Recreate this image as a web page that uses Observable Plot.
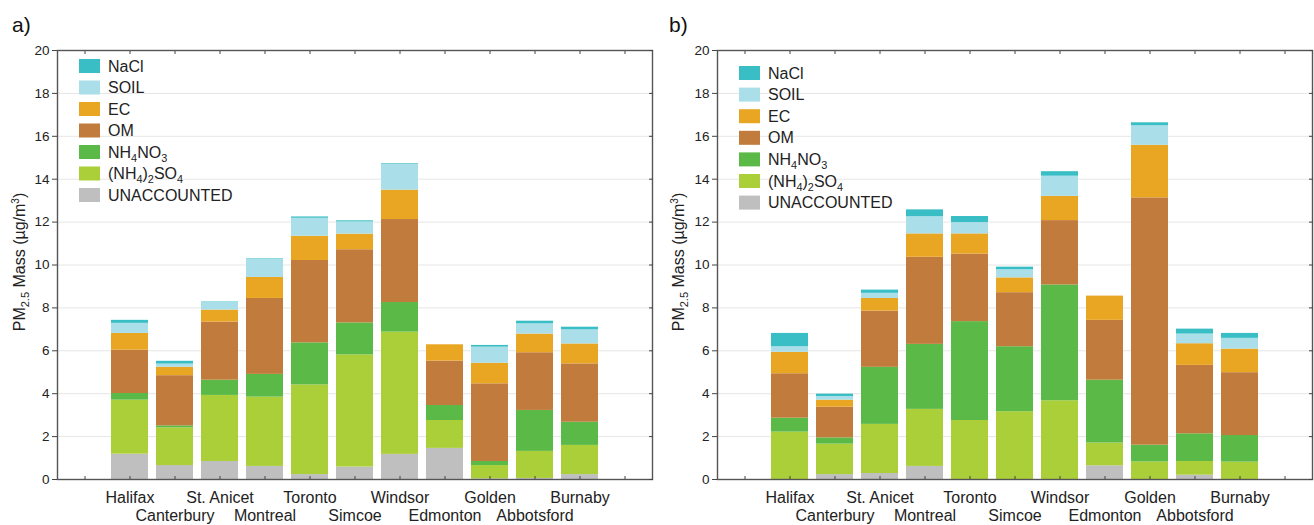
<!DOCTYPE html>
<html><head><meta charset="utf-8">
<script src="https://cdn.jsdelivr.net/npm/d3@7"></script>
<script src="https://cdn.jsdelivr.net/npm/@observablehq/plot@0.6"></script>
<style>
body{margin:0;background:#fff;font-family:"Liberation Sans",Arial,sans-serif;}
#wrap{display:flex;width:1314px;height:525px;}
svg{display:block}
</style></head><body><div id="wrap"></div>
<script>
const sites = ["Halifax","Canterbury","St. Anicet","Montreal","Toronto","Simcoe","Windsor","Edmonton","Golden","Abbotsford","Burnaby"];
const components = ["UNACCOUNTED","(NH4)2SO4","NH4NO3","OM","EC","SOIL","NaCl"];
const colors = ["#bfbfbf","#abcf39","#5bb947","#c17b3c","#e9a623","#aadfe9","#38bec4"];
const yTicks = [0,2,4,6,8,10,12,14,16,18,20];

// Panel a)
const aUnacc = [1.18,0.65,0.84,0.61,0.23,0.58,1.17,1.45,0.03,0.05,0.23];
const aSulf  = [2.52,1.76,3.08,3.23,4.18,5.23,5.70,1.30,0.62,1.26,1.36];
const aNitr  = [0.31,0.09,0.71,1.06,1.96,1.49,1.38,0.70,0.19,1.91,1.08];
const aOM    = [2.02,2.34,2.71,3.54,3.84,3.41,3.87,2.07,3.62,2.69,2.72];
const aEC    = [0.78,0.39,0.56,0.98,1.13,0.73,1.37,0.76,0.96,0.87,0.93];
const aSoil  = [0.47,0.15,0.36,0.86,0.84,0.57,1.20,0.00,0.75,0.48,0.66];
const aNaCl  = [0.14,0.13,0.02,0.02,0.06,0.05,0.03,0.00,0.08,0.12,0.12];

// Panel b)
const bUnacc = [0.00,0.23,0.28,0.61,0.00,0.00,0.00,0.64,0.00,0.20,0.00];
const bSulf  = [2.21,1.42,2.29,2.66,2.75,3.16,3.67,1.06,0.82,0.64,0.81];
const bNitr  = [0.65,0.29,2.66,3.03,4.61,3.03,5.40,2.93,0.78,1.29,1.24];
const bOM    = [2.07,1.43,2.62,4.06,3.15,2.52,3.00,2.79,11.53,3.19,2.93];
const bEC    = [1.00,0.33,0.59,1.09,0.94,0.69,1.13,1.13,2.45,1.01,1.10];
const bSoil  = [0.26,0.17,0.24,0.80,0.53,0.38,0.94,0.00,0.91,0.45,0.50];
const bNaCl  = [0.62,0.11,0.15,0.32,0.28,0.12,0.21,0.00,0.14,0.23,0.23];

const FONT = '"Liberation Sans", Arial, sans-serif';

function addRichText(sel, str, size) {
  // digits become subscripts
  const parts = str.split(/(\d)/).filter(p => p !== "");
  let sub = false;
  parts.forEach(p => {
    const isSub = /^\d$/.test(p);
    const t = sel.append("tspan").text(p);
    if (isSub) { t.attr("font-size", size * 0.68); if (!sub) t.attr("dy", size * 0.28); sub = true; }
    else { if (sub) t.attr("dy", -size * 0.28); sub = false; }
  });
}

function panel(tag, vals, o) {
  const data = [];
  components.forEach((c, j) => sites.forEach((s, i) => data.push({site: s, comp: c, value: vals[j][i]})));
  const domainX = ["pad0", ...sites, "pad1"];
  const row1 = sites.filter((d, i) => i % 2 === 0);
  const row2 = sites.filter((d, i) => i % 2 === 1);
  const svg = Plot.plot({
    width: 657, height: 525,
    marginTop: 50, marginBottom: 46, marginLeft: o.ml, marginRight: o.mr,
    style: {fontFamily: FONT, fontSize: "13px", color: "#222", background: "white", overflow: "visible"},
    x: {type: "band", domain: domainX, paddingInner: 0.17, paddingOuter: 0.085},
    y: {domain: [0, 20]},
    color: {domain: components, range: colors},
    marks: [
      Plot.gridY(yTicks.slice(1, -1), {stroke: "#e6e6e6", strokeOpacity: 1}),
      Plot.barY(data, {x: "site", y: "value", fill: "comp", order: components}),
      Plot.frame({stroke: "#555", strokeWidth: 1.4}),
      Plot.axisY(yTicks, {tickSize: 5, tickPadding: 3, label: null, fontSize: 13.5, stroke: "#444"}),
      Plot.axisY(yTicks, {anchor: "right", tickSize: -4, tickFormat: () => "", label: null, stroke: "#444"}),
      Plot.axisX(domainX, {tickSize: -3, tickFormat: () => "", label: null, stroke: "#444"}),
      Plot.axisX(domainX, {anchor: "top", tickSize: -3, tickFormat: () => "", label: null, stroke: "#444"}),
      Plot.axisX(row1, {tickSize: 0, tickPadding: 12, label: null, fontSize: 16, fill: "#222"}),
      Plot.axisX(row2, {tickSize: 0, tickPadding: 30, label: null, fontSize: 16, fill: "#222"})
    ]
  });
  const s = d3.select(svg);
  s.append("text").attr("x", 12).attr("y", 32).attr("text-anchor", "start").attr("font-size", 21)
    .attr("font-family", FONT).attr("fill", "#111").text(tag);
  // y label
  const yl = s.append("text")
    .attr("transform", `translate(${o.yl},${262}) rotate(-90)`)
    .attr("text-anchor", "middle").attr("font-size", 16).attr("font-family", FONT).attr("fill", "#222");
  yl.append("tspan").text("PM");
  yl.append("tspan").text("2.5").attr("font-size", 11).attr("dy", 4);
  yl.append("tspan").text(" Mass (µg/m").attr("dy", -4);
  yl.append("tspan").text("3").attr("font-size", 10).attr("dy", -6);
  yl.append("tspan").text(")").attr("dy", 6);
  // legend
  const legendOrder = components.slice().reverse();
  const colorOf = c => colors[components.indexOf(c)];
  legendOrder.forEach((c, i) => {
    const cy = o.ly + i * o.ls;
    s.append("rect").attr("x", o.lx).attr("y", cy - 7).attr("width", 21).attr("height", 14).attr("fill", colorOf(c));
    const t = s.append("text").attr("x", o.lx + 29).attr("y", cy + 5.5).attr("font-size", 16)
      .attr("text-anchor", "start").attr("font-family", FONT).attr("fill", "#222");
    addRichText(t, c, 16);
  });
  return svg;
}

const wrap = document.getElementById("wrap");
wrap.appendChild(panel("a)", [aUnacc, aSulf, aNitr, aOM, aEC, aSoil, aNaCl], {ml: 57, mr: 5, yl: 25, lx: 79, ly: 66, ls: 21.5}));
wrap.appendChild(panel("b)", [bUnacc, bSulf, bNitr, bOM, bEC, bSoil, bNaCl], {ml: 60, mr: 2, yl: 27, lx: 82, ly: 73, ls: 21.6}));
</script></body></html>
